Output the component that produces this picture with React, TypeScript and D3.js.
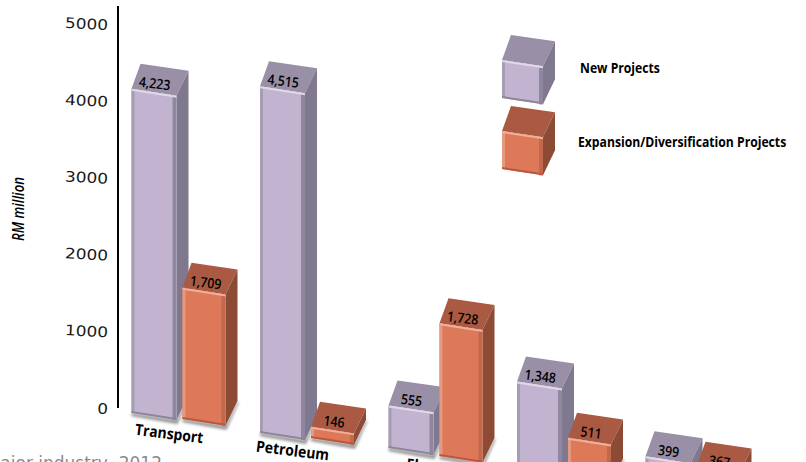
import React from "react";
import * as d3 from "d3";

const categories = ["Transport", "Petroleum", "Electronics"];
const newProjects = [4223, 4515, 555, 1348, 399];
const expansionProjects = [1709, 146, 1728, 511, 367];
const axisTicks = [0, 1000, 2000, 3000, 4000, 5000];
const legendLabels = ["New Projects", "Expansion/Diversification Projects"];
const axisTitle = "RM million";
const sourceFragment = "by major industry, 2012";

const W = 806;
const H = 462;
const condensed = "'Open Sans', 'Noto Sans', sans-serif";

const yAxis = d3.scaleLinear().domain([0, 5000]).range([408, 24]);
const barHeight = (v: number) => yAxis(0) - yAxis(v);
const groupX = d3.scaleLinear().domain([0, 4]).range([131.5, 645.5]);
// The floor recedes unevenly in the drawing's perspective: bar index -> y of the front-left foot.
const floorY = d3
  .scaleLinear()
  .domain([0, 1, 2, 3, 4, 5, 6, 7, 8, 9])
  .range([413, 419, 433, 438, 448, 456, 485, 477, 487, 495]);
const line = d3.line<[number, number]>();

const purple = {
  front: "#c2b4d0", top: "#998fa6", side: "#7f788e", hi: "#e0d8e7",
  left: "#a69db2", right: "#8f879e", bottom: "#8d8599",
};
const orange = {
  front: "#dd7859", top: "#aa5a43", side: "#8d4b36", hi: "#eeb09a",
  left: "#e59a80", right: "#c2684c", bottom: "#b9583f",
};
type Palette = typeof purple;

const DL = 9, DR = 12, DY = 25;

function Box({ x, floor, h, w, p, shadow = true }: { x: number; floor: number; h: number; w: number; p: Palette; shadow?: boolean }) {
  const s = 0.155 * w; // front edge tilt
  const fl: [number, number] = [x, floor - h];
  const fr: [number, number] = [x + w, floor - h + s];
  const br: [number, number] = [x + w, floor + s];
  const bl: [number, number] = [x, floor];
  const tbl: [number, number] = [x + DL, floor - h - DY];
  const tbr: [number, number] = [x + w + DR, floor - h + s - DY];
  const bbr: [number, number] = [x + w + DR, floor + s - DY];
  const inset = (a: [number, number], dx: number, dy: number): [number, number] => [a[0] + dx, a[1] + dy];
  const b = Math.min(2, h / 6);
  return (
    <g>
      {shadow && (
        <path
          d={line([inset(bl, 0, 0), inset(br, 0, 0), inset(bbr, 0, 0), inset(bbr, 1, 2), inset(br, 1, 4), inset(bl, 0, 3)])!}
          fill="#000" opacity={0.45} filter="url(#soft)"
        />
      )}
      <path d={line([fl, fr, tbr, tbl])! + "Z"} fill={p.top} />
      <path d={line([fr, br, bbr, tbr])! + "Z"} fill={p.side} />
      <path d={line([fl, fr, br, bl])! + "Z"} fill={p.front} />
      <path d={line([fl, inset(fl, 3, 0), inset(bl, 3, 0), bl])! + "Z"} fill={p.left} />
      <path d={line([inset(fr, -4, 0), fr, br, inset(br, -4, 0)])! + "Z"} fill={p.right} />
      <path d={line([inset(bl, 0, -2), inset(br, 0, -2), br, bl])! + "Z"} fill={p.bottom} />
      <path d={line([fl, fr, inset(fr, 0, b), inset(fl, 0, b)])! + "Z"} fill={p.hi} />
    </g>
  );
}

function ValueLabel({ x, y, v }: { x: number; y: number; v: number }) {
  return (
    <text
      transform={`translate(${x},${y}) rotate(7) scale(0.88,1)`}
      textAnchor="middle" dominantBaseline="middle"
      fontFamily={condensed} fontWeight={600} fontSize={14} fill="#000"
    >
      {d3.format(",")(v)}
    </text>
  );
}

export default function App() {
  const bars = newProjects.flatMap((v, i) => [
    { v, x: groupX(i), idx: i * 2, p: purple, w: 45 },
    { v: expansionProjects[i], x: groupX(i) + 51, idx: i * 2 + 1, p: orange, w: 43 },
  ]);
  const labelDx = [37, 32, 55];
  return (
    <svg width={W} height={H} style={{ position: "fixed", left: 0, top: 0, background: "#fff" }}>
      <defs>
        <filter id="soft" x="-20%" y="-20%" width="140%" height="140%">
          <feGaussianBlur stdDeviation="1.6" />
        </filter>
      </defs>

      <line x1={118} x2={118} y1={6} y2={yAxis(0)} stroke="#000" strokeWidth={2} />
      {axisTicks.map((t) => (
        <text
          key={t}
          transform={`translate(108,${yAxis(t) + 2}) rotate(3) scale(1.17,1)`}
          textAnchor="end" dominantBaseline="middle"
          fontFamily="'DejaVu Sans', sans-serif" fontSize={14.5} fill="#1a1a1a"
        >
          {t}
        </text>
      ))}
      <text
        transform="translate(20,209) rotate(-90) scale(0.8,1)"
        textAnchor="middle" dominantBaseline="middle"
        fontFamily={condensed} fontStyle="italic" fontWeight={600} fontSize={16.5} fill="#000"
      >
        {axisTitle}
      </text>

      {bars.map((b) => (
        <Box key={b.idx} x={b.x} floor={floorY(b.idx)} h={barHeight(b.v)} w={b.w} p={b.p} />
      ))}
      {bars.map((b) => (
        <ValueLabel key={b.idx} x={b.x + 23} y={floorY(b.idx) - barHeight(b.v) - 4} v={b.v} />
      ))}

      {categories.map((c, i) => (
        <text
          key={c}
          transform={`translate(${groupX(i) + labelDx[i]},${floorY(i * 2) + 26 - (i === 1 ? 3 : 0)}) rotate(7) scale(0.9,1)`}
          textAnchor="middle"
          fontFamily={condensed} fontWeight={700} fontSize={15.5} fill="#000"
        >
          {c}
        </text>
      ))}

      <text
        x={162} y={468.5} textAnchor="end"
        fontFamily="'DejaVu Sans', sans-serif" fontSize={17} fill="#8a8a8a"
      >
        {sourceFragment}
      </text>

      {legendLabels.map((l, i) => {
        const fy = 98 + i * 71;
        return (
          <g key={l}>
            <Box x={502} floor={fy} h={38} w={41} p={i === 0 ? purple : orange} shadow={false} />
            <text
              transform={`translate(${i === 0 ? 580 : 578},${i === 0 ? 69 : 143}) scale(0.84,1)`}
              dominantBaseline="middle"
              fontFamily={condensed} fontWeight={700} fontSize={14.5} fill="#000"
            >
              {l}
            </text>
          </g>
        );
      })}
    </svg>
  );
}
